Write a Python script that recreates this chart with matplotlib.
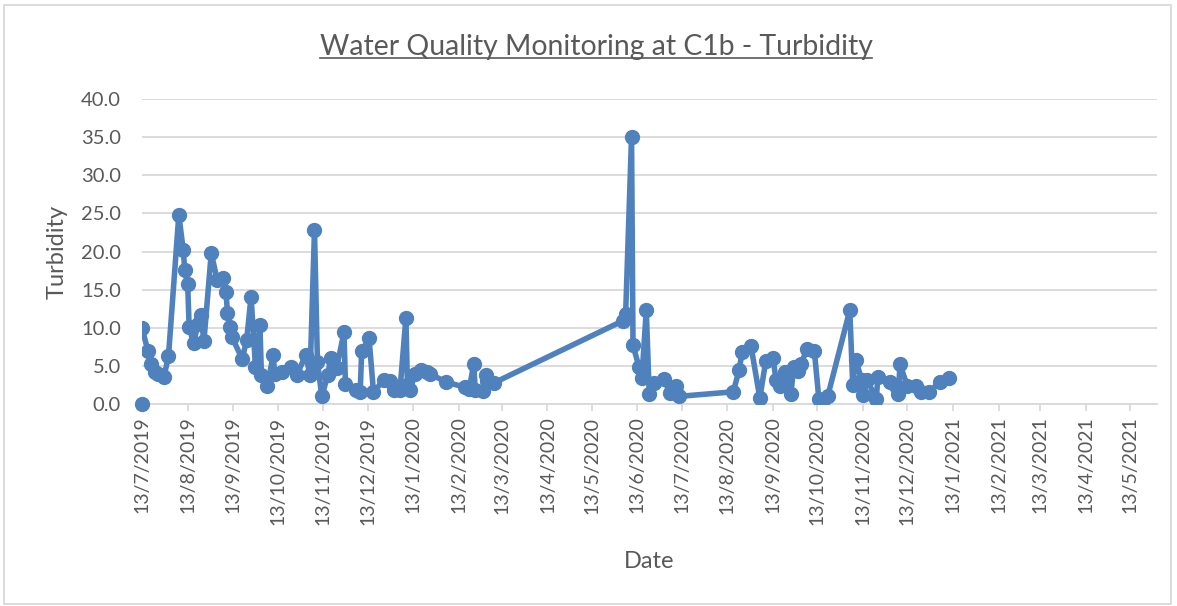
import matplotlib
matplotlib.use("Agg")
import matplotlib.pyplot as plt
import matplotlib.dates as mdates
from matplotlib.patches import Rectangle
from matplotlib.ticker import FuncFormatter, FixedLocator
import pandas as pd

plt.rcParams['font.family'] = ['Lato', 'DejaVu Sans']

# sampling dates and turbidity readings
dates = [
    "2019-07-13", "2019-07-17", "2019-07-19", "2019-07-22", "2019-07-24", "2019-07-28",
    "2019-07-31", "2019-08-07", "2019-08-10", "2019-08-11", "2019-08-13", "2019-08-14",
    "2019-08-17", "2019-08-20", "2019-08-22", "2019-08-24", "2019-08-29", "2019-09-02",
    "2019-09-06", "2019-09-08", "2019-09-09", "2019-09-11", "2019-09-12", "2019-09-19",
    "2019-09-22", "2019-09-25", "2019-09-28", "2019-10-01", "2019-10-02", "2019-10-06",
    "2019-10-10", "2019-10-11", "2019-10-16", "2019-10-22", "2019-10-26", "2019-11-01",
    "2019-11-04", "2019-11-07", "2019-11-09", "2019-11-12", "2019-11-16", "2019-11-18",
    "2019-11-22", "2019-11-27", "2019-11-28", "2019-12-05", "2019-12-08", "2019-12-09",
    "2019-12-14", "2019-12-17", "2019-12-24", "2019-12-28", "2019-12-31", "2020-01-04",
    "2020-01-08", "2020-01-09", "2020-01-11", "2020-01-14", "2020-01-18", "2020-01-22",
    "2020-01-24", "2020-02-04", "2020-02-17", "2020-02-20", "2020-02-23", "2020-02-24",
    "2020-02-29", "2020-03-02", "2020-03-03", "2020-03-08",
    "2020-06-03", "2020-06-05", "2020-06-09", "2020-06-10", "2020-06-14", "2020-06-16",
    "2020-06-19", "2020-06-21", "2020-06-24", "2020-07-01", "2020-07-05", "2020-07-09",
    "2020-07-11",
    "2020-08-17", "2020-08-21", "2020-08-23", "2020-08-29", "2020-09-04", "2020-09-08",
    "2020-09-13", "2020-09-15", "2020-09-18", "2020-09-21", "2020-09-25", "2020-09-27",
    "2020-09-30", "2020-10-02", "2020-10-06", "2020-10-11", "2020-10-14", "2020-10-17",
    "2020-10-20", "2020-11-04", "2020-11-06", "2020-11-08", "2020-11-12", "2020-11-13",
    "2020-11-16", "2020-11-22", "2020-11-23", "2020-12-01", "2020-12-05", "2020-12-07",
    "2020-12-08", "2020-12-13", "2020-12-19", "2020-12-22", "2020-12-28", "2021-01-04",
    "2021-01-10",
]
turbidity = [
    10.0, 7.0, 5.3, 4.2, 3.9, 3.6,
    6.3, 24.8, 20.2, 17.6, 15.8, 10.1,
    8.0, 10.5, 11.7, 8.2, 19.8, 16.3,
    16.5, 14.7, 11.9, 10.1, 8.8, 5.9,
    8.4, 14.1, 4.8, 10.4, 3.8, 2.3,
    6.4, 4.0, 4.2, 4.9, 3.8, 6.4,
    3.8, 22.8, 5.5, 1.0, 3.8, 6.0,
    4.7, 9.4, 2.6, 1.8, 1.6, 6.9,
    8.6, 1.6, 3.1, 3.0, 1.8, 1.9,
    11.3, 2.5, 1.9, 4.0, 4.4, 4.2,
    4.0, 2.9, 2.2, 2.0, 5.3, 1.8,
    1.7, 3.8, 3.0, 2.8,
    10.9, 11.8, 35.0, 7.7, 4.9, 3.4,
    12.3, 1.3, 2.7, 3.3, 1.4, 2.3,
    1.0,
    1.6, 4.5, 6.8, 7.6, 0.8, 5.6,
    6.0, 3.1, 2.3, 4.2, 1.3, 4.8,
    4.3, 5.3, 7.2, 6.9, 0.7, 0.5,
    1.0, 12.3, 2.5, 5.8, 3.2, 1.2,
    3.1, 0.6, 3.6, 2.9, 2.4, 1.3,
    5.2, 2.4, 2.4, 1.6, 1.6, 2.9,
    3.4,
]
# reading with no link to the series line
zero_dates = ["2019-07-13"]
zero_vals = [0.0]

tick_dates = pd.date_range("2019-07-13", "2021-05-13", freq=pd.DateOffset(months=1))

blue = "#4F81BD"
grey_txt = "#595959"

fig = plt.figure(figsize=(11.77, 6.06), dpi=100)
ax = fig.add_axes([0.1206, 0.3333, 0.862, 0.5033])

x = pd.to_datetime(dates)
ax.plot(x, turbidity, color=blue, lw=4.0, marker="o", ms=10, solid_joinstyle="round", zorder=3)
ax.plot(pd.to_datetime(zero_dates), zero_vals, color=blue, lw=0, marker="o", ms=10, zorder=3, clip_on=False)

ax.set_ylim(0, 40)
ax.set_yticks(range(0, 41, 5))
ax.yaxis.set_major_formatter(FuncFormatter(lambda v, p: f"{v:.1f}"))
ax.set_xlim(pd.Timestamp("2019-07-13"), pd.Timestamp("2021-05-31"))
ax.xaxis.set_major_locator(FixedLocator(mdates.date2num(tick_dates)))
ax.xaxis.set_major_formatter(FuncFormatter(
    lambda v, p: (lambda d: f"{d.day}/{d.month}/{d.year}")(mdates.num2date(v))))

ax.grid(axis="y", color="#D9D9D9", lw=1.3)
ax.set_axisbelow(True)
for s in ["left", "right", "top"]:
    ax.spines[s].set_visible(False)
ax.spines["bottom"].set_color("#D9D9D9")
ax.spines["bottom"].set_linewidth(1.3)
ax.tick_params(axis="y", length=0, pad=15, labelsize=14.5, labelcolor=grey_txt)
ax.tick_params(axis="x", length=5, width=1.3, color="#D9D9D9", labelsize=14,
               labelcolor=grey_txt, rotation=90, pad=4)

ax.set_ylabel("Turbidity", fontsize=17, color=grey_txt, labelpad=10)
ax.set_xlabel("Date", fontsize=17, color=grey_txt, labelpad=19)

title = fig.text(596 / 1177, 1 - 47 / 606, "Water Quality Monitoring at C1b - Turbidity",
                 fontsize=20.4, color=grey_txt, ha="center", va="center")
fig.canvas.draw()
bb = title.get_window_extent()
inv = fig.transFigure.inverted()
(x0, y0), (x1, y1) = inv.transform([[bb.x0, bb.y0], [bb.x1, bb.y1]])
fig.add_artist(plt.Line2D([x0, x1], [y0 + 0.003, y0 + 0.003], transform=fig.transFigure,
                          color=grey_txt, lw=1.2))

fig.add_artist(Rectangle((0.003, 0.004), 0.992, 0.987, transform=fig.transFigure,
                         fill=False, edgecolor="#D9D9D9", lw=1.3))

fig.savefig("out.png", dpi=100)
